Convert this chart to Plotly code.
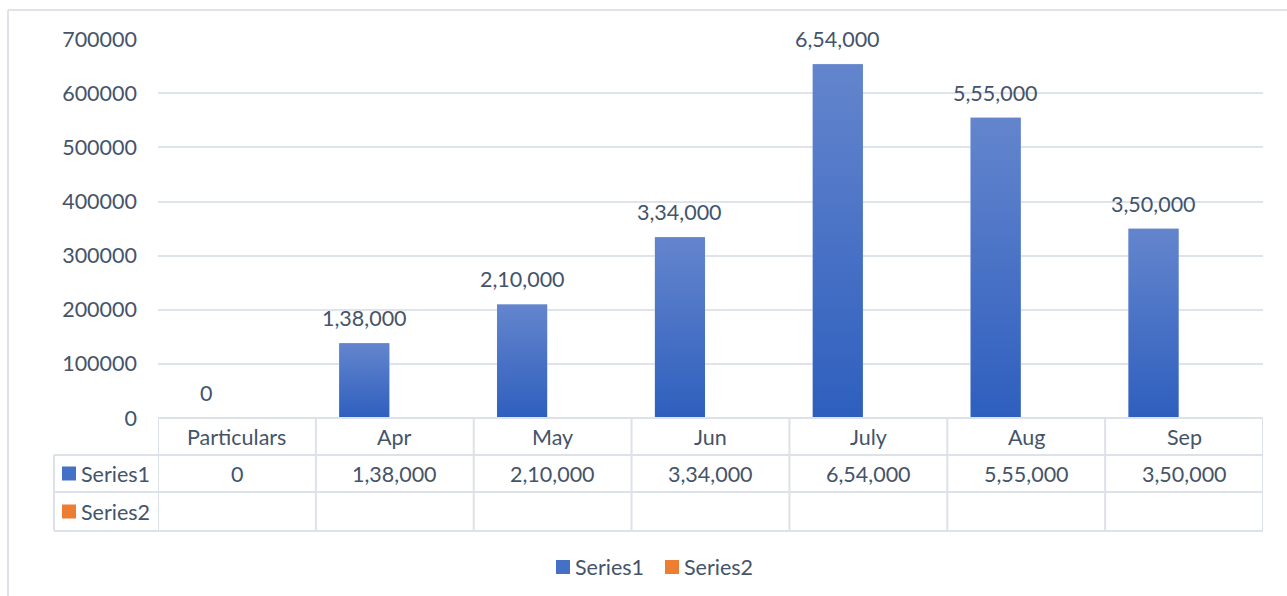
import plotly.graph_objects as go

# ---------------- data ----------------
categories = ["Particulars", "Apr", "May", "Jun", "July", "Aug", "Sep"]
series1 = [0, 138000, 210000, 334000, 654000, 555000, 350000]
series2 = [None, None, None, None, None, None, None]
series_names = ["Series1", "Series2"]
y_ticks = [0, 100000, 200000, 300000, 400000, 500000, 600000, 700000]


def indian_format(v):
    s = str(int(v))
    if len(s) <= 3:
        return s
    head, tail = s[:-3], s[-3:]
    parts = []
    while len(head) > 2:
        parts.insert(0, head[-2:])
        head = head[:-2]
    if head:
        parts.insert(0, head)
    return ",".join(parts) + "," + tail


s1_labels = [indian_format(v) for v in series1]

# ---------------- style ----------------
W, H = 1287, 596
L, R, T, B = 158, 24, 39, 178
PW, PH = W - L - R, H - T - B
TXT = "#44546a"
GRID = "#dfe3ea"
FONT = "Lato, 'Open Sans', sans-serif"
FS = 21.5
BLUE = "#4470c6"
ORANGE = "#ed7d31"
OFF, BW = -0.352, 0.317


def px_x(p):
    return (p - L) / PW


def px_y(p):
    return (H - B - p) / PH


n = len(categories)
xs = list(range(n))

fig = go.Figure()
fig.add_trace(go.Bar(x=xs, y=series1, name=series_names[0], marker_color=BLUE,
                     offset=OFF, width=BW, hoverinfo="skip"))
fig.add_trace(go.Bar(x=xs, y=series2, name=series_names[1], marker_color=ORANGE,
                     offset=OFF + BW, width=BW, hoverinfo="skip"))

# gradient overlay for series1 bars
for i, v in enumerate(series1):
    if not v:
        continue
    x0, x1 = i + OFF, i + OFF + BW
    fig.add_trace(go.Scatter(
        x=[x0, x1, x1, x0, x0], y=[0, 0, v, v, 0], mode="lines",
        line=dict(width=0), fill="toself",
        fillgradient=dict(type="vertical", start=0, stop=v,
                          colorscale=[[0, "#2e5fbe"], [1, "#6485cd"]]),
        showlegend=False, hoverinfo="skip"))

font = dict(size=FS, color=TXT, family=FONT)
annotations = []
# data labels
for i, v in enumerate(series1):
    annotations.append(dict(x=i + OFF + BW / 2, y=v, xref="x", yref="y", text=s1_labels[i],
                            showarrow=False, yanchor="bottom", yshift=10, font=font))

# table geometry (pixels)
row_lines = [418, 455, 492, 531]
left_col = 54
shapes = []
line_style = dict(color="#dde1e8", width=2)
shapes.append(dict(type="line", xref="x", yref="paper", x0=-0.5, x1=n - 0.5,
                   y0=px_y(row_lines[0]), y1=px_y(row_lines[0]), line=line_style))
for r in row_lines[1:]:
    shapes.append(dict(type="line", xref="paper", yref="paper", x0=px_x(left_col), x1=1,
                       y0=px_y(r), y1=px_y(r), line=line_style))
for k in range(n + 1):
    shapes.append(dict(type="line", xref="x", yref="paper", x0=k - 0.5, x1=k - 0.5,
                       y0=px_y(row_lines[0]), y1=px_y(row_lines[-1]), line=line_style))
shapes.append(dict(type="line", xref="paper", yref="paper", x0=px_x(left_col), x1=px_x(left_col),
                   y0=px_y(row_lines[1]), y1=px_y(row_lines[-1]), line=line_style))

# outer chart border
shapes.append(dict(type="line", xref="paper", yref="paper", x0=px_x(8), x1=px_x(1290),
                   y0=px_y(10), y1=px_y(10), line=dict(color="#dfe2e8", width=2)))
shapes.append(dict(type="line", xref="paper", yref="paper", x0=px_x(8), x1=px_x(8),
                   y0=px_y(10), y1=px_y(600), line=dict(color="#dfe2e8", width=2)))

row_mid = [(row_lines[j] + row_lines[j + 1]) / 2 for j in range(3)]
for i, c in enumerate(categories):
    annotations.append(dict(x=i, y=px_y(row_mid[0]), xref="x", yref="paper", text=c,
                            showarrow=False, xanchor="center", yanchor="middle", font=font))
for i, v in enumerate(series1):
    annotations.append(dict(x=i, y=px_y(row_mid[1]), xref="x", yref="paper", text=s1_labels[i],
                            showarrow=False, xanchor="center", yanchor="middle", font=font))
for j, (name, col) in enumerate(zip(series_names, [BLUE, ORANGE])):
    ym = row_mid[1 + j]
    shapes.append(dict(type="rect", xref="paper", yref="paper",
                       x0=px_x(62), x1=px_x(76), y0=px_y(ym + 7), y1=px_y(ym - 7),
                       fillcolor=col, line=dict(width=0)))
    annotations.append(dict(x=px_x(79), y=px_y(ym), xref="paper", yref="paper", text=name,
                            showarrow=False, xanchor="left", yanchor="middle", font=font))

# legend (bottom)
leg_y = 567
for name, col, sx in zip(series_names, [BLUE, ORANGE], [556, 665]):
    shapes.append(dict(type="rect", xref="paper", yref="paper",
                       x0=px_x(sx), x1=px_x(sx + 14), y0=px_y(leg_y + 7), y1=px_y(leg_y - 7),
                       fillcolor=col, line=dict(width=0)))
    annotations.append(dict(x=px_x(sx + 17), y=px_y(leg_y), xref="paper", yref="paper", text=name,
                            showarrow=False, xanchor="left", yanchor="middle", font=font))

fig.update_layout(
    width=W, height=H,
    margin=dict(l=L, r=R, t=T, b=B, pad=0),
    paper_bgcolor="white", plot_bgcolor="white",
    font=dict(family=FONT, size=FS, color=TXT),
    showlegend=False,
    xaxis=dict(range=[-0.5, n - 0.5], showticklabels=False, showgrid=False, zeroline=False,
               showline=False, fixedrange=True),
    yaxis=dict(range=[0, 700500], tickvals=y_ticks, ticktext=[str(t) for t in y_ticks],
               showgrid=True, gridcolor=GRID, gridwidth=2, zeroline=False, showline=False,
               ticks="", ticklabelstandoff=20, tickfont=font),
    shapes=shapes, annotations=annotations,
)

fig.write_html("out.html")
